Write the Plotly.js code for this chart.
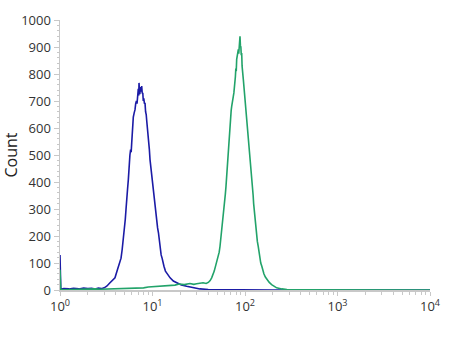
<!DOCTYPE html>
<html>
<head>
<meta charset="utf-8">
<script src="https://cdn.plot.ly/plotly-3.0.1.min.js"></script>
<style>html,body{margin:0;padding:0;background:#fff;}#chart{width:450px;height:338px;}</style>
</head>
<body>
<div id="chart"></div>
<script>
// Blue histogram (control)
const blueX = [1.0, 1.02, 1.1, 1.25, 1.4, 1.6, 1.8, 2.0, 2.2, 2.4, 2.6, 2.8, 3.0, 3.2, 3.45, 3.7, 3.93, 4.2, 4.45, 4.57, 4.7, 4.84, 4.92, 5.0, 5.08, 5.17, 5.26, 5.37, 5.48, 5.55, 5.61, 5.7, 5.8, 5.88, 5.96, 6.08, 6.2, 6.33, 6.47, 6.58, 6.7, 6.8, 6.9, 7.02, 7.1, 7.15, 7.22, 7.3, 7.38, 7.45, 7.55, 7.64, 7.75, 7.85, 7.95, 8.05, 8.18, 8.3, 8.42, 8.55, 8.67, 8.79, 8.95, 9.1, 9.25, 9.4, 9.6, 9.8, 10.0, 10.2, 10.4, 10.6, 10.85, 11.1, 11.35, 11.6, 11.85, 12.1, 12.4, 12.7, 13.0, 13.3, 13.8, 14.3, 14.9, 15.5, 16.8, 18.3, 20.5, 23.4, 27.5, 32.6, 40, 60, 100, 200, 500, 1000, 3000, 10000];
const blueY = [130, 3, 5, 4, 6, 4, 7, 5, 6, 4, 7, 5, 8, 14, 26, 35, 45, 78, 105, 118, 150, 187, 200, 240, 262, 298, 350, 372, 409, 445, 483, 500, 520, 510, 545, 600, 640, 655, 668, 690, 700, 690, 735, 745, 720, 767, 740, 725, 752, 748, 735, 755, 728, 730, 700, 710, 690, 693, 660, 650, 625, 607, 580, 545, 520, 483, 455, 420, 390, 360, 325, 305, 275, 261, 230, 212, 180, 162, 130, 118, 95, 88, 70, 62, 52, 45, 33, 27, 19, 14, 8, 4, 2, 1, 1, 0, 0, 0, 0, 0];

// Green histogram (stained)
const greenX = [1.0, 1.02, 1.1, 1.3, 1.6, 2.0, 2.4, 2.71, 3.2, 3.8, 4.5, 5.7, 6.8, 8.0, 9.0, 9.9, 11.2, 12.5, 14.0, 15.5, 17.5, 19.5, 22.0, 25.4, 28.0, 30.0, 33.0, 35.2, 38.0, 40.1, 42.0, 43.6, 46.5, 48, 49.4, 50.5, 51.5, 52.6, 53.7, 55, 56, 57.2, 58.3, 59.3, 60.3, 61.3, 62.3, 63.2, 64, 65, 65.9, 67, 68, 69, 70, 70.9, 71.8, 72.7, 73.5, 74.6, 75.8, 76.8, 77.9, 78.7, 79.6, 80.4, 81.3, 82.1, 83, 83.8, 84.7, 85.6, 86.5, 87.4, 88.3, 89.2, 90.2, 91.1, 92.1, 93, 94, 95, 95.9, 97, 98, 99, 100, 101.5, 103, 104.5, 106, 107.5, 109, 111, 113, 115, 117, 119, 121, 122.5, 124, 126, 128, 130.5, 133, 136, 139, 142, 145, 148, 152, 156, 160, 166, 172, 183, 194, 207, 220, 250, 284, 400, 1000, 3000, 10000];
const greenY = [75, 2, 1, 2, 3, 2, 4, 3, 4, 3, 5, 5, 7, 8, 11, 12, 13, 15, 17, 19, 18, 22, 20, 24, 21, 23, 26, 27, 24, 28, 35, 45, 70, 88, 100, 112, 128, 140, 162, 195, 215, 240, 261, 300, 330, 355, 384, 420, 440, 480, 508, 545, 580, 610, 631, 665, 680, 700, 705, 715, 730, 748, 755, 790, 820, 810, 854, 870, 860, 885, 891, 875, 905, 920, 940, 905, 900, 870, 878, 830, 820, 795, 780, 760, 750, 730, 718, 690, 670, 650, 631, 600, 570, 540, 508, 470, 445, 410, 384, 350, 320, 290, 261, 230, 205, 180, 162, 135, 118, 100, 88, 72, 60, 48, 39, 28, 20, 12, 8, 4, 2, 1, 0, 0, 0];

const tickVals = [1, 10, 100, 1000, 10000];
const tickText = ['10<sup>0</sup>', '10<sup>1</sup>', '10<sup>2</sup>', '10<sup>3</sup>', '10<sup>4</sup>'];

const traces = [
  {x: blueX, y: blueY, type: 'scatter', mode: 'lines', line: {color: '#1b1ba6', width: 1.6}, showlegend: false, hoverinfo: 'skip'},
  {x: greenX, y: greenY, type: 'scatter', mode: 'lines', line: {color: '#22a36a', width: 1.6}, showlegend: false, hoverinfo: 'skip'}
];

const layout = {
  width: 450, height: 338,
  margin: {l: 60, r: 20, t: 20, b: 48},
  paper_bgcolor: '#fff', plot_bgcolor: '#fff',
  font: {family: 'Open Sans, DejaVu Sans, sans-serif', color: '#333', size: 12},
  xaxis: {
    type: 'log', range: [0, 4],
    tickmode: 'array', tickvals: tickVals, ticktext: tickText,
    showgrid: false, zeroline: false,
    showline: true, linecolor: '#c8c8c8', linewidth: 1.5,
    ticks: 'outside', ticklen: 4, tickcolor: '#c8c8c8',
    tickfont: {size: 13, color: '#333'},
    minor: {ticks: 'outside', ticklen: 3, tickcolor: '#c8c8c8', dtick: 'D1', showgrid: false}
  },
  yaxis: {
    range: [0, 1000], dtick: 100,
    showgrid: false, zeroline: false,
    showline: true, linecolor: '#c8c8c8', linewidth: 1.5,
    ticks: 'outside', ticklen: 5, tickcolor: '#c8c8c8',
    tickfont: {size: 13, color: '#333'},
    minor: {ticks: 'outside', ticklen: 2, tickcolor: '#c8c8c8', dtick: 20, showgrid: false},
    title: {text: 'Count', font: {size: 16, color: '#222'}, standoff: 8}
  }
};

Plotly.newPlot('chart', traces, layout, {displayModeBar: false, staticPlot: true});
</script>
</body>
</html>
